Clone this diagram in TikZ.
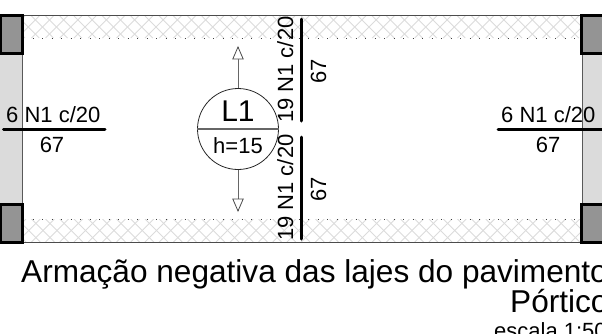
\documentclass[tikz,border=0pt]{standalone}
\usepackage{fontspec}
\setmainfont{Liberation Sans}
\newcommand{\lab}{\fontsize{22}{22}\selectfont}
\newcommand{\titl}{\fontsize{31.6}{31.6}\selectfont}
\tikzset{
 txt/.style={inner sep=0pt,text=black},
 bar/.style={line width=3pt,black,line cap=round},
 column/.style={draw=black,line width=3pt,fill=black!42},
 strip/.style={draw=black!65,line width=1pt,fill=black!14},
 hatch/.style={draw=black!14,line width=0.9pt},
 edge/.style={draw=black!70,line width=1pt},
 dots/.style={black!75,line width=0.8pt,dash pattern=on 1pt off 8.5pt},
 span/.style={draw=black!60,line width=1pt},
 tip/.style={draw=black!70,line width=0.8pt,fill=white},
}
\begin{document}
\begin{tikzpicture}[x=1pt,y=-1pt]
\useasboundingbox (0,0) rectangle (602,333);
\clip (0,0) rectangle (602,333);
% hatch bands
\begin{scope}
\clip (23,16) rectangle (581,38);
\foreach \k in {0,...,60}{
  \draw[hatch] (\k*14.2+3,16) -- ++(22,22);
  \draw[hatch] (\k*14.2+3,38) -- ++(22,-22);
}
\end{scope}
\begin{scope}
\clip (23,219) rectangle (581,242);
\foreach \k in {0,...,60}{
  \draw[hatch] (\k*14.2+3,219) -- ++(23,23);
  \draw[hatch] (\k*14.2+3,242) -- ++(23,-23);
}
\end{scope}
\coordinate (tl) at (23,15.5); \coordinate (tr) at (581,15.5);
\coordinate (bl) at (23,242); \coordinate (br) at (581,242);
\coordinate (dtl) at (23,38.5); \coordinate (dtr) at (581,38.5);
\coordinate (dbl) at (23,219); \coordinate (dbr) at (581,219);
\draw[edge] (tl) -- (tr);
\draw[edge] (bl) -- (br);
\draw[dots] (dtl) -- (dtr);
\draw[dots] (dbl) -- (dbr);
% strips and columns
\draw[strip] (-2,53) rectangle (22,204);
\draw[strip] (582,53) rectangle (605,204);
\draw[column] (0,15.5) rectangle (22,53);
\draw[column] (0,204) rectangle (22,242);
\draw[column] (581,15.5) rectangle (605,53);
\draw[column] (581,204) rectangle (605,242);
% left bar
\node[txt,anchor=base west] (t1) at (6,122) {\lab 6 N1 c/20};
\node[txt,anchor=base] (t2) at (52,152) {\lab 67};
\coordinate (la) at (3.5,129); \coordinate (lb) at (105,129);
\draw[bar] (la) -- (lb);
% right bar
\node[txt,anchor=base west] (t3) at (501,122) {\lab 6 N1 c/20};
\node[txt,anchor=base] (t4) at (548,152) {\lab 67};
\coordinate (ra) at (498,129); \coordinate (rb) at (602,129);
\draw[bar] (ra) -- (rb);
% central bars
\coordinate (ua) at (301.5,19); \coordinate (ub) at (301.5,121);
\coordinate (da) at (301.5,137); \coordinate (db) at (301.5,239);
\draw[bar] (ua) -- (ub);
\draw[bar] (da) -- (db);
\node[txt,anchor=base west,rotate=90] (t5) at (293,123) {\lab 19 N1 c/20};
\node[txt,anchor=base,rotate=90] (t6) at (326,71) {\lab 67};
\node[txt,anchor=base west,rotate=90] (t7) at (293,241) {\lab 19 N1 c/20};
\node[txt,anchor=base,rotate=90] (t8) at (326,189) {\lab 67};
% slab symbol
\node[circle,draw=black!85,line width=0.8pt,minimum size=81pt,inner sep=0pt] (c) at (238,129) {};
\draw[black!60,line width=1.3pt] (c.west) -- (c.east);
\node[txt,anchor=base] (l1) at (238,121) {\fontsize{30}{30}\selectfont L1};
\node[txt,anchor=base] (h) at (238,153) {\lab h=15};
\coordinate (ut) at (238,47); \coordinate (dt) at (238,211);
\draw[span] (c.north) -- (ut);
\draw[span] (c.south) -- (dt);
\draw[tip] (238,47) -- (232.8,59) -- (243.2,59) -- cycle;
\draw[tip] (238,211) -- (232.8,199) -- (243.2,199) -- cycle;
% title
\node[txt,anchor=base west] (a) at (21,282) {\titl Armação negativa das lajes do pavimento};
\node[txt,anchor=base west] (b) at (510,312) {\titl Pórtico};
\node[txt,anchor=base west] (e) at (494,338) {\lab escala 1:50};
\end{tikzpicture}
\end{document}
